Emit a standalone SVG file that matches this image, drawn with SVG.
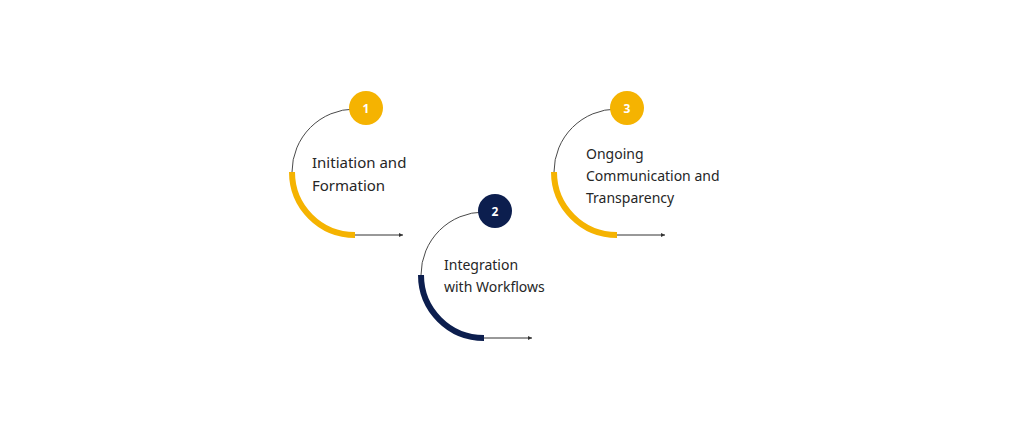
<svg xmlns="http://www.w3.org/2000/svg" width="1024" height="428" viewBox="0 0 1024 428">
  <style>
    .thin { fill: none; stroke: #4a4a4a; stroke-width: 1; }
    .thick { fill: none; stroke-width: 6; stroke-linecap: butt; }
    .arrow { fill: none; stroke: #333333; stroke-width: 1; }
    .yellow { stroke: #F5B301; }
    .navy { stroke: #0C1E4E; }
    .label { font-family: "Noto Sans", "Open Sans", sans-serif; font-size: 14px; fill: #262626; }
    .big { font-size: 15px; }
    .num { font-family: "Noto Sans", "Open Sans", sans-serif; font-size: 12px; font-weight: 700; fill: #ffffff; text-anchor: middle; }
  </style>
  <defs>
    <marker id="ah" viewBox="0 0 6 6" refX="6" refY="3" markerWidth="4" markerHeight="4" orient="auto" markerUnits="userSpaceOnUse">
      <path d="M0,0 L6,3 L0,6 Z" fill="#333333"/>
    </marker>
  </defs>
  <rect width="1024" height="428" fill="#ffffff"/>
  <g id="connectors">
    <path class="arrow" d="M355,235 L403,235" marker-end="url(#ah)"/>
    <path class="arrow" d="M484,338 L532,338" marker-end="url(#ah)"/>
    <path class="arrow" d="M617,235 L665,235" marker-end="url(#ah)"/>
  </g>
  <g id="node1">
    <path class="thin" d="M355,109 A63,63 0 0 0 292,172"/>
    <path class="thick yellow" d="M292,172 A63,63 0 0 0 355,235"/>
    <circle cx="366" cy="108" r="17" fill="#F5B301"/>
    <text class="num" x="366" y="112.5">1</text>
    <text class="label big" x="312" y="168">Initiation and</text>
    <text class="label big" x="312" y="191">Formation</text>
  </g>
  <g id="node2">
    <path class="thin" d="M484,212 A63,63 0 0 0 421,275"/>
    <path class="thick navy" d="M421,275 A63,63 0 0 0 484,338"/>
    <circle cx="495" cy="211" r="17" fill="#0C1E4E"/>
    <text class="num" x="495" y="215.5">2</text>
    <text class="label" x="444" y="270">Integration</text>
    <text class="label" x="444" y="292">with Workflows</text>
  </g>
  <g id="node3">
    <path class="thin" d="M617,109 A63,63 0 0 0 554,172"/>
    <path class="thick yellow" d="M554,172 A63,63 0 0 0 617,235"/>
    <circle cx="627" cy="108" r="17" fill="#F5B301"/>
    <text class="num" x="627" y="112.5">3</text>
    <text class="label" x="586" y="159">Ongoing</text>
    <text class="label" x="586" y="181">Communication and</text>
    <text class="label" x="586" y="203">Transparency</text>
  </g>
</svg>
